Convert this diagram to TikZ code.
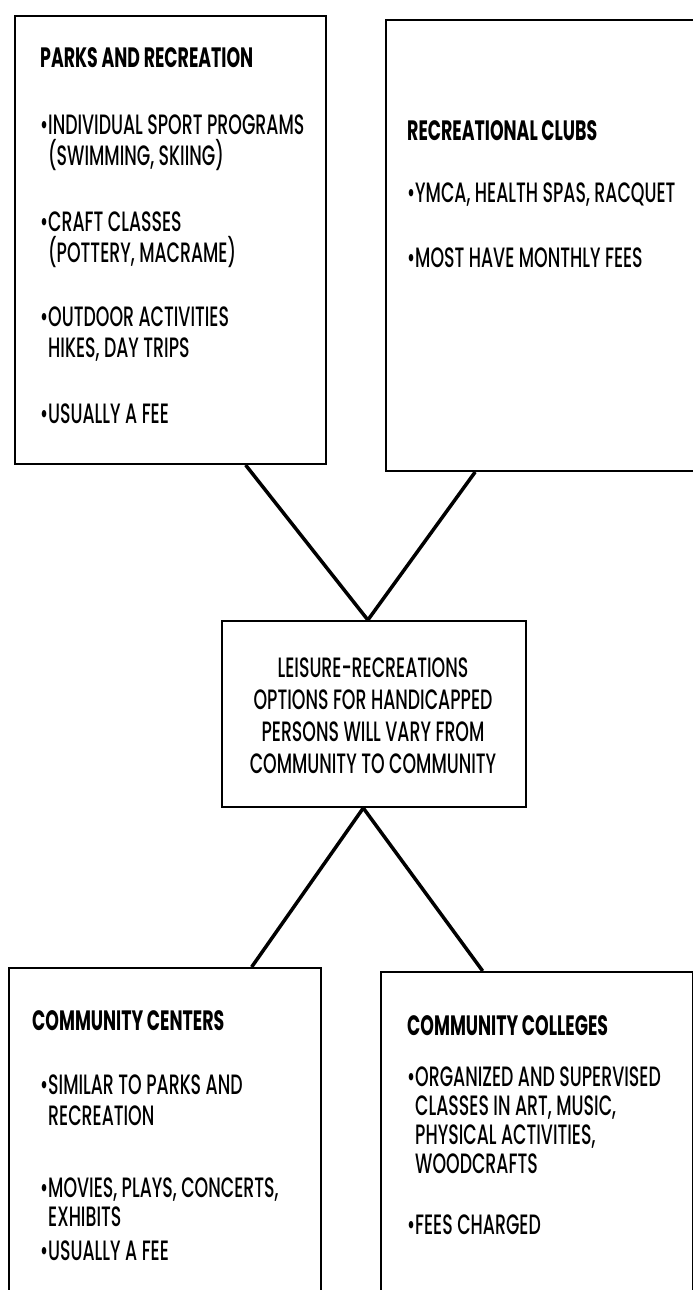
\documentclass[tikz,border=0pt]{standalone}
\usepackage{fontspec}
\setmainfont{Poppins}[UprightFont={* Medium}, BoldFont={* Bold}, FakeStretch=0.62]
\usetikzlibrary{calc}
\newcommand\bul{\makebox[8pt][l]{\textbullet}}
\newcommand\ind{\hspace*{8pt}}
\begin{document}
\begin{tikzpicture}[x=1pt,y=-1pt,
  panel/.style={draw, line width=2pt, anchor=north west, inner sep=0pt},
  txt/.style={anchor=north west, inner sep=0pt, align=left, font=\fontsize{28}{31}\selectfont},
  tight/.style={txt, font=\fontsize{28}{29}\selectfont},
  head/.style={txt, font=\fontsize{28}{31}\selectfont\bfseries},
  mid/.style={anchor=north, inner sep=0pt, align=center, font=\fontsize{28}{32}\selectfont},
  link/.style={line width=3.5pt}]
\useasboundingbox (0,0) rectangle (693,1290);
\clip (0,0) rectangle (693,1290);
\fill[white] (0,0) rectangle (693,1290);

% the five panels
\node[panel, minimum width=311pt, minimum height=448pt] (parks) at (14,15) {};
\node[panel, minimum width=320pt, minimum height=451pt] (clubs) at (385,19) {};
\node[panel, minimum width=304pt, minimum height=186pt] (hub) at (221,620) {};
\node[panel, minimum width=312pt, minimum height=340pt] (centers) at (8,967) {};
\node[panel, minimum width=312pt, minimum height=340pt] (colleges) at (380,971) {};

% connector ends on the panel edges
\coordinate (pA) at ($(parks.south west)!0.74!(parks.south east)$);
\coordinate (cA) at ($(clubs.south west)!0.28!(clubs.south east)$);
\coordinate (hT) at ($(hub.north west)!0.48!(hub.north east)$);
\coordinate (hB) at ($(hub.south west)!0.465!(hub.south east)$);
\coordinate (ctA) at ($(centers.north west)!0.776!(centers.north east)$);
\coordinate (clA) at ($(colleges.north west)!0.327!(colleges.north east)$);

\draw[link] (pA) -- (hT);
\draw[link] (cA) -- (hT);
\draw[link] (hB) -- (ctA);
\draw[link] (hB) -- (clA);

% parks and recreation
\node[head] (t1) at (40,47) {PARKS AND RECREATION};
\node[txt] (t1a) at (40,115) {\bul INDIVIDUAL SPORT PROGRAMS\\\ind(SWIMMING, SKIING)};
\node[txt] (t1b) at (40,212) {\bul CRAFT CLASSES\\\ind(POTTERY, MACRAME)};
\node[txt] (t1c) at (40,307) {\bul OUTDOOR ACTIVITIES\\\ind HIKES, DAY TRIPS};
\node[txt] (t1d) at (40,404) {\bul USUALLY A FEE};

% recreational clubs
\node[head] (t2) at (407,120) {RECREATIONAL CLUBS};
\node[txt] (t2a) at (407,183) {\bul YMCA, HEALTH SPAS, RACQUET};
\node[txt] (t2b) at (407,248) {\bul MOST HAVE MONTHLY FEES};

% central statement
\node[mid] (t3) at (373,658) {LEISURE-RECREATIONS\\OPTIONS FOR HANDICAPPED\\PERSONS WILL VARY FROM\\COMMUNITY TO COMMUNITY};

% community centers
\node[head] (t4) at (32,1010) {COMMUNITY CENTERS};
\node[txt] (t4a) at (40,1075) {\bul SIMILAR TO PARKS AND\\\ind RECREATION};
\node[tight] (t4b) at (40,1178) {\bul MOVIES, PLAYS, CONCERTS,\\\ind EXHIBITS\\[5pt]\bul USUALLY A FEE};

% community colleges
\node[head] (t5) at (407,1015) {COMMUNITY COLLEGES};
\node[tight] (t5a) at (407,1067) {\bul ORGANIZED AND SUPERVISED\\\ind CLASSES IN ART, MUSIC,\\\ind PHYSICAL ACTIVITIES,\\\ind WOODCRAFTS};
\node[txt] (t5b) at (407,1215) {\bul FEES CHARGED};
\end{tikzpicture}
\end{document}
